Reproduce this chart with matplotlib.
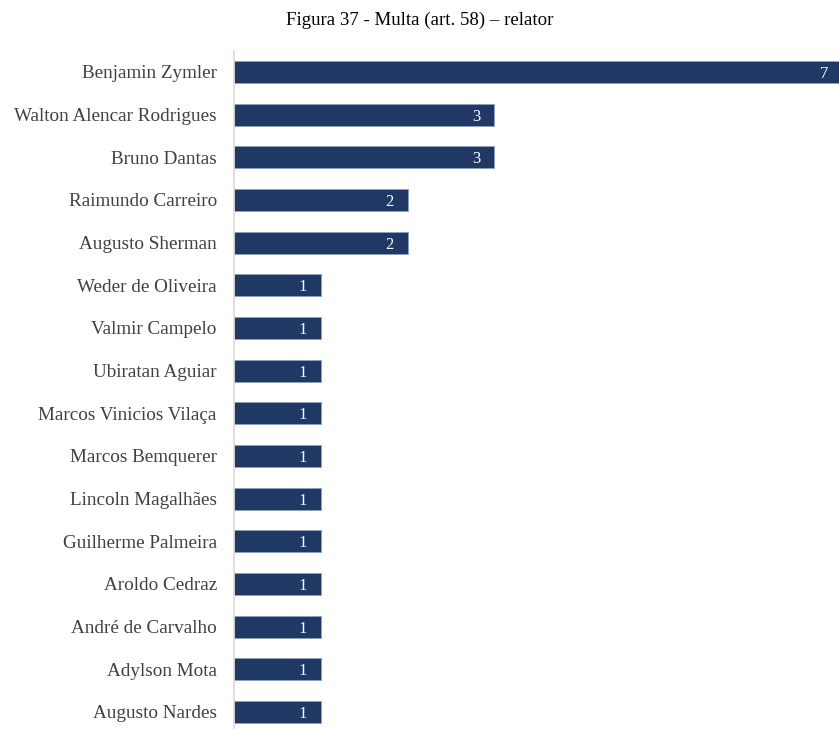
import matplotlib
matplotlib.use("Agg")
import matplotlib.pyplot as plt

names = ["Benjamin Zymler", "Walton Alencar Rodrigues", "Bruno Dantas", "Raimundo Carreiro",
         "Augusto Sherman", "Weder de Oliveira", "Valmir Campelo", "Ubiratan Aguiar",
         "Marcos Vinicios Vilaça", "Marcos Bemquerer", "Lincoln Magalhães", "Guilherme Palmeira",
         "Aroldo Cedraz", "André de Carvalho", "Adylson Mota", "Augusto Nardes"]
values = [7, 3, 3, 2, 2, 1, 1, 1, 1, 1, 1, 1, 1, 1, 1, 1]
title = "Figura 37 - Multa (art. 58) – relator"

plt.rcParams['font.family'] = ['Liberation Serif', 'DejaVu Serif']

W, H = 839, 729
fig = plt.figure(figsize=(W / 100, H / 100), dpi=100)
ax = fig.add_axes([233.5 / W, -4.3 / H, (W - 233.5) / W, 682.7 / H])

ypos = list(range(len(names)))
bars = ax.barh(ypos, values, height=0.52, color="#203864", edgecolor="#8EA0BF", linewidth=0.6)
ax.set_ylim(len(names) - 0.5, -0.5)
ax.set_xlim(0, (W - 233.5) / 87.0)
ax.set_yticks(ypos)
ax.set_yticklabels(names, fontsize=13.8, color="#404040")
ax.tick_params(axis='y', length=0, pad=12)
ax.set_xticks([])
for s in ["top", "right", "bottom"]:
    ax.spines[s].set_visible(False)
ax.spines["left"].set_color("#D9D9D9")
ax.spines["left"].set_linewidth(1.2)

for y, v in zip(ypos, values):
    ax.annotate(str(v), xy=(v, y), xytext=(-10, 0), textcoords="offset points",
                ha="right", va="center_baseline", color="white", fontsize=12,
                annotation_clip=False)

fig.text(0.5, 1 - 20 / H, title, ha="center", va="center", fontsize=13.6, color="black")

fig.savefig("out.png", dpi=100)
